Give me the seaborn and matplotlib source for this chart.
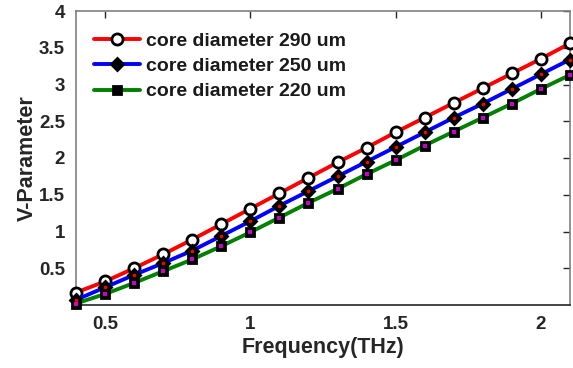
import matplotlib
matplotlib.use("Agg")
import matplotlib.pyplot as plt
import seaborn as sns
import pandas as pd

freq = [0.4, 0.5, 0.6, 0.7, 0.8, 0.9, 1.0, 1.1, 1.2, 1.3, 1.4, 1.5, 1.6, 1.7, 1.8, 1.9, 2.0, 2.1]
v290 = [0.17, 0.32, 0.50, 0.69, 0.89, 1.10, 1.31, 1.52, 1.73, 1.94, 2.14, 2.35, 2.55, 2.75, 2.95, 3.15, 3.35, 3.56]
v250 = [0.07, 0.24, 0.41, 0.57, 0.74, 0.94, 1.14, 1.35, 1.55, 1.75, 1.95, 2.15, 2.35, 2.55, 2.74, 2.94, 3.14, 3.34]
v220 = [0.02, 0.15, 0.30, 0.46, 0.62, 0.80, 0.99, 1.19, 1.39, 1.58, 1.78, 1.97, 2.17, 2.36, 2.55, 2.74, 2.94, 3.13]
labels = ["core diameter 290 um", "core diameter 250 um", "core diameter 220 um"]
xticks = [0.5, 1, 1.5, 2]
yticks = [0.5, 1, 1.5, 2, 2.5, 3, 3.5, 4]

sns.set_theme(style="white")
plt.rcParams['font.family'] = ['Liberation Sans', 'DejaVu Sans']
plt.rcParams['font.weight'] = 'bold'

fig = plt.figure(figsize=(5.73, 3.68), dpi=100)
ax = fig.add_axes([76/573, 1-305/368, 494/573, 294/368])

series = [v290, v250, v220]
colors = ["#ff0000", "#0000ff", "#008000"]
markers = ["o", "D", "s"]
faces = ["white", "black", "black"]
msizes = [8, 6.5, 6]
dots = [None, "#ff0000", "#cc00cc"]

for vals, lab, c, m, fc, ms, dc in zip(series, labels, colors, markers, faces, msizes, dots):
    df = pd.DataFrame({"f": freq, "v": vals})
    sns.lineplot(data=df, x="f", y="v", ax=ax, color=c, lw=2.8, marker=m,
                 markersize=ms, markerfacecolor=fc, markeredgecolor="black",
                 markeredgewidth=2.0, label=lab, clip_on=False, zorder=3)
    if dc is not None:
        ax.plot(df["f"], df["v"], ls="none", marker="o" if m == "D" else "s",
                markersize=2.6, color=dc, markeredgewidth=0, clip_on=False, zorder=4)

ax.set_xlim(0.4, 2.1)
ax.set_ylim(0, 4)
ax.set_xticks(xticks)
ax.set_xticklabels(["0.5", "1", "1.5", "2"])
ax.set_yticks(yticks)
ax.set_yticklabels(["0.5", "1", "1.5", "2", "2.5", "3", "3.5", "4"])
ax.tick_params(direction="in", length=5, width=1, top=True, right=True,
               labelsize=13.5, colors="#262626", pad=8)
for lbl in ax.get_xticklabels() + ax.get_yticklabels():
    lbl.set_fontweight("bold")
ax.set_xlabel("Frequency(THz)", fontsize=15.5, fontweight="bold", color="#262626", labelpad=3)
ax.set_ylabel("V-Parameter", fontsize=15.5, fontweight="bold", color="#262626", labelpad=1)
for s in ["left", "top", "right"]:
    ax.spines[s].set_color("#808080")
    ax.spines[s].set_linewidth(1.2)
ax.spines["bottom"].set_color("#262626")
ax.spines["bottom"].set_linewidth(1.2)

leg = ax.legend(loc="upper left", frameon=False, fontsize=14, handlelength=2.4,
                borderaxespad=0.0, labelspacing=0.4, handletextpad=0.3,
                bbox_to_anchor=(0.02, 0.955))
for t in leg.get_texts():
    t.set_fontweight("bold")
    t.set_color("#1a1a1a")

fig.savefig("out.png", dpi=100)
